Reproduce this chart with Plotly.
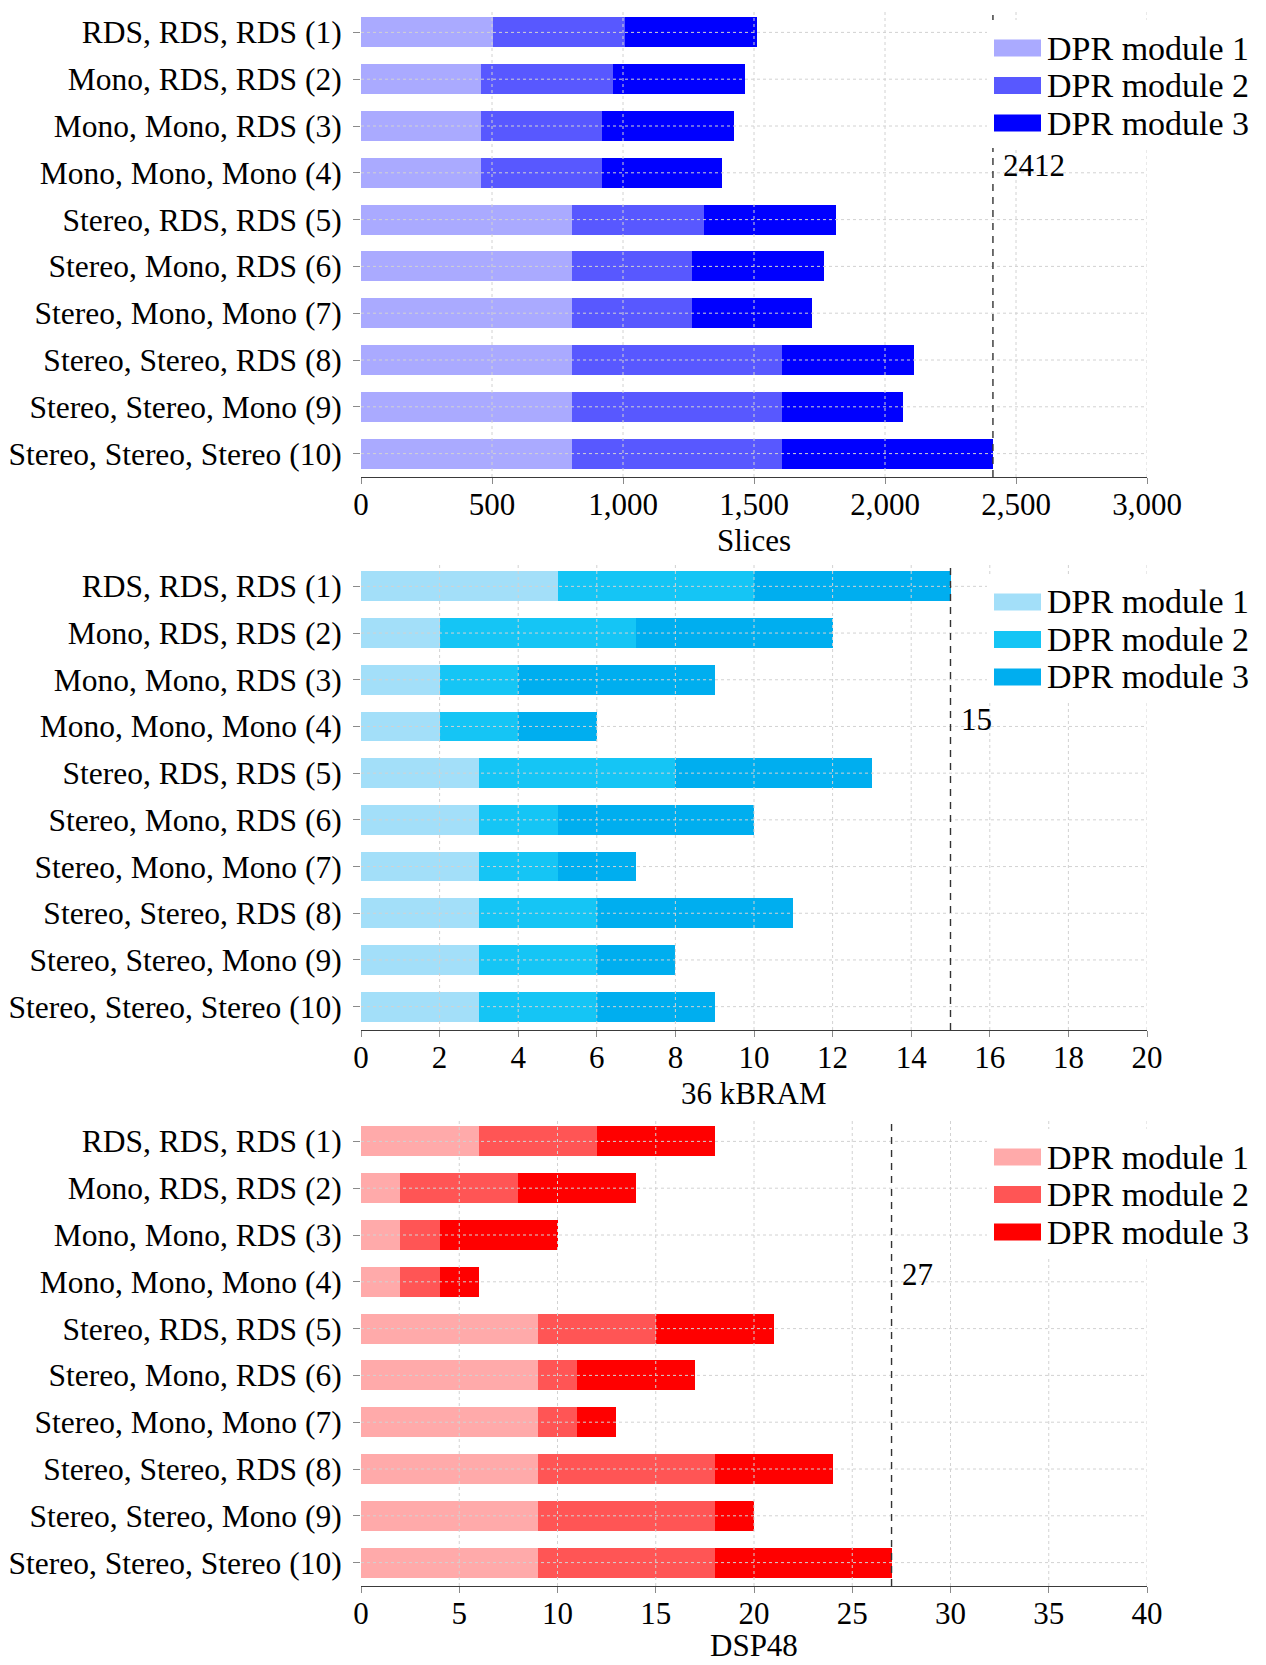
import plotly.graph_objects as go

# ---- data -------------------------------------------------------------
categories = [
    "RDS, RDS, RDS (1)",
    "Mono, RDS, RDS (2)",
    "Mono, Mono, RDS (3)",
    "Mono, Mono, Mono (4)",
    "Stereo, RDS, RDS (5)",
    "Stereo, Mono, RDS (6)",
    "Stereo, Mono, Mono (7)",
    "Stereo, Stereo, RDS (8)",
    "Stereo, Stereo, Mono (9)",
    "Stereo, Stereo, Stereo (10)",
]
module_names = ["DPR module 1", "DPR module 2", "DPR module 3"]

slices_m1 = [504, 459, 459, 459, 804, 804, 804, 804, 804, 804]
slices_m2 = [504, 504, 459, 459, 504, 459, 459, 804, 804, 804]
slices_m3 = [504, 504, 504, 459, 504, 504, 459, 504, 459, 804]

bram_m1 = [5, 2, 2, 2, 3, 3, 3, 3, 3, 3]
bram_m2 = [5, 5, 2, 2, 5, 2, 2, 3, 3, 3]
bram_m3 = [5, 5, 5, 2, 5, 5, 2, 5, 2, 3]

dsp_m1 = [6, 2, 2, 2, 9, 9, 9, 9, 9, 9]
dsp_m2 = [6, 6, 2, 2, 6, 2, 2, 9, 9, 9]
dsp_m3 = [6, 6, 6, 2, 6, 6, 2, 6, 2, 9]

slices_ticks = [0, 500, 1000, 1500, 2000, 2500, 3000]
slices_ticktext = ["0", "500", "1,000", "1,500", "2,000", "2,500", "3,000"]
bram_ticks = [0, 2, 4, 6, 8, 10, 12, 14, 16, 18, 20]
dsp_ticks = [0, 5, 10, 15, 20, 25, 30, 35, 40]

# ---- styling / layout -------------------------------------------------
W, H = 1266, 1665
FONT = "Liberation Serif"
PLOT_LEFT, PLOT_RIGHT = 361, 1147
PANEL_TOP = [9, 563, 1118]
PANEL_BOTTOM = [477, 1030, 1586]
GRID = "#d2d2d2"


def px(x):
    return x / W


def py(y):
    return 1 - y / H


panels = [
    dict(series=[slices_m1, slices_m2, slices_m3], title="Slices",
         xmax=3000, ticks=slices_ticks, ticktext=slices_ticktext,
         colors=["#aaaaff", "#5858ff", "#0000ff"]),
    dict(series=[bram_m1, bram_m2, bram_m3], title="36 kBRAM",
         xmax=20, ticks=bram_ticks, ticktext=[str(t) for t in bram_ticks],
         colors=["#a3dff9", "#15c5f5", "#00aeef"]),
    dict(series=[dsp_m1, dsp_m2, dsp_m3], title="DSP48",
         xmax=40, ticks=dsp_ticks, ticktext=[str(t) for t in dsp_ticks],
         colors=["#ffaaaa", "#ff5555", "#ff0000"]),
]

fig = go.Figure()
shapes = []
annotations = []
layout_axes = {}

for i, p in enumerate(panels):
    n = "" if i == 0 else str(i + 1)
    xa, ya = "x" + n, "y" + n
    top, bottom = PANEL_TOP[i], PANEL_BOTTOM[i]

    for vals, name, color in zip(p["series"], module_names, p["colors"]):
        fig.add_trace(go.Bar(
            x=vals, y=categories, orientation="h", name=name,
            marker=dict(color=color, line=dict(width=0)),
            width=0.64, xaxis=xa, yaxis=ya, showlegend=False,
        ))

    totals = [sum(v) for v in zip(*p["series"])]
    peak = max(totals)

    layout_axes["xaxis" + n] = dict(
        domain=[px(PLOT_LEFT), px(PLOT_RIGHT)], anchor=ya, automargin=False,
        range=[0, p["xmax"]], tickvals=p["ticks"], ticktext=p["ticktext"],
        showgrid=False, zeroline=False, showline=True, linecolor="#3a3a3a",
        linewidth=1.3, ticks="outside", ticklen=6, tickcolor="#8a8a8a",
        tickwidth=1.3, tickfont=dict(family=FONT, size=31, color="black"),
        ticklabelstandoff=-6, layer="above traces", fixedrange=True,
    )
    layout_axes["yaxis" + n] = dict(
        domain=[py(bottom), py(top)], anchor=xa, automargin=False,
        type="category", categoryorder="array", categoryarray=categories,
        range=[len(categories) - 0.5, -0.5],
        showgrid=False, zeroline=False, showline=False,
        ticks="outside", ticklen=7, tickcolor="#8a8a8a", tickwidth=1.3,
        tickfont=dict(family=FONT, size=31.5, color="black"),
        ticklabelstandoff=5, fixedrange=True,
    )

    # dotted grid on top of the bars
    for t in p["ticks"][1:]:
        shapes.append(dict(type="line", xref=xa, yref=ya + " domain",
                           x0=t, x1=t, y0=0, y1=1, layer="above",
                           line=dict(color=GRID, width=1, dash="dot")))
    for c in categories:
        shapes.append(dict(type="line", xref=xa + " domain", yref=ya,
                           x0=0, x1=1, y0=c, y1=c, layer="above",
                           line=dict(color=GRID, width=1, dash="dot")))

    # dashed marker at the largest stacked total
    shapes.append(dict(type="line", xref=xa, yref=ya + " domain",
                       x0=peak, x1=peak, y0=0, y1=1, layer="above",
                       line=dict(color="#333333", width=1.4, dash="7px,6px")))
    annotations.append(dict(x=peak, y=categories[3], xref=xa, yref=ya,
                            text=str(peak), showarrow=False, xanchor="left",
                            yanchor="middle", xshift=8, yshift=7,
                            font=dict(family=FONT, size=31, color="black")))

    # legend box
    shapes.append(dict(type="rect", xref="paper", yref="paper",
                       x0=px(987), x1=px(W), y0=py(top + 139), y1=py(top + 11),
                       layer="above", fillcolor="white", line=dict(width=0)))
    for k, (name, color) in enumerate(zip(module_names, p["colors"])):
        cy = top + 39 + 37.5 * k
        shapes.append(dict(type="rect", xref="paper", yref="paper",
                           x0=px(994), x1=px(1041), y0=py(cy + 8.5), y1=py(cy - 8.5),
                           layer="above", fillcolor=color, line=dict(width=0)))
        annotations.append(dict(x=px(1045), y=py(cy), xref="paper", yref="paper",
                                text=name, showarrow=False, xanchor="left",
                                yanchor="middle",
                                font=dict(family=FONT, size=34, color="black")))

    # axis title, kept inside the page for the lowest panel
    title_y = min(bottom + 63, H - 20)
    annotations.append(dict(x=px((PLOT_LEFT + PLOT_RIGHT) / 2), y=py(title_y),
                            xref="paper", yref="paper", text=p["title"],
                            showarrow=False, xanchor="center", yanchor="middle",
                            font=dict(family=FONT, size=31, color="black")))

fig.update_layout(
    width=W, height=H, margin=dict(l=0, r=0, t=0, b=0, autoexpand=False),
    paper_bgcolor="white", plot_bgcolor="white",
    barmode="stack", bargap=0, showlegend=False,
    shapes=shapes, annotations=annotations,
    font=dict(family=FONT, color="black"),
    **layout_axes,
)

fig.write_html("out.html")
